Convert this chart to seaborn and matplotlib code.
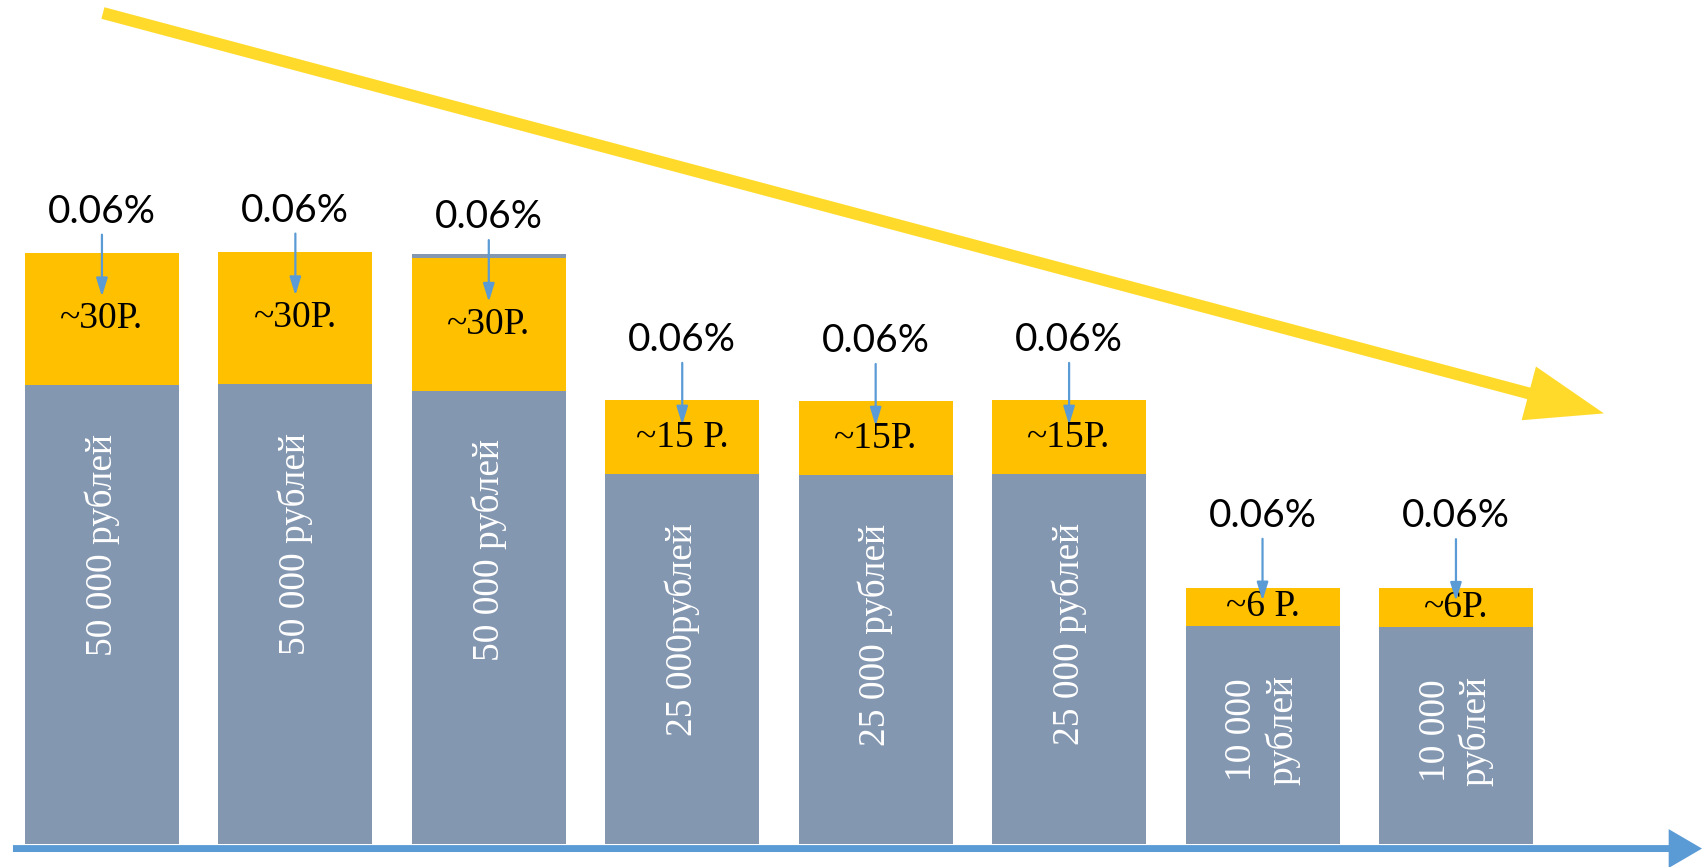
import pandas as pd
import matplotlib.pyplot as plt
import seaborn as sns
from matplotlib.patches import FancyArrowPatch

# deposits (grey part) and the 0.06% fee on top (yellow part), in picture units
slots = [1, 2, 3, 4, 5, 6, 7, 8]
base_values = [423, 424, 418, 341, 340, 341, 201, 200]
fee_values = [122, 122, 122, 68, 68, 68, 35, 36]
cap_values = [0, 0, 4, 0, 0, 0, 0, 0]   # thin grey edge left above the third bar
amount_labels = ['50 000 рублей', '50 000 рублей', '50 000 рублей',
                 '25 000рублей', '25 000 рублей', '25 000 рублей',
                 '10 000\nрублей', '10 000\nрублей']
fee_labels = ['~30Р.', '~30Р.', '~30Р.', '~15 Р.', '~15Р.', '~15Р.', '~6 Р.', '~6Р.']
rate_labels = ['0.06%'] * 8

GREY = '#8497B0'
GOLD = '#FFC000'
BLUE = '#5B9BD5'
ARROW_YELLOW = '#FFDA2B'
SERIF = ['Liberation Serif', 'DejaVu Serif']


def make_chart():
    df = pd.DataFrame({'slot': slots, 'base': base_values, 'fee': fee_values,
                       'cap': cap_values})
    df['total'] = df['base'] + df['fee']
    df['outer'] = df['total'] + df['cap']

    sns.set_style('white')
    fig = plt.figure(figsize=(17.02, 8.67), dpi=100)
    ax = fig.add_axes([0, 0, 1, 1])

    sns.barplot(data=df, x='slot', y='outer', color=GREY, saturation=1,
                width=0.796, linewidth=0, ax=ax)
    sns.barplot(data=df, x='slot', y='total', color=GOLD, saturation=1,
                width=0.796, linewidth=0, ax=ax)
    sns.barplot(data=df, x='slot', y='base', color=GREY, saturation=1,
                width=0.796, linewidth=0, ax=ax)

    for i, row in df.iterrows():
        top = row['total']
        # amount written vertically inside the grey bar
        ax.text(i, row['base'] - 45, amount_labels[i], rotation=90,
                ha='center', va='top', multialignment='center',
                color='white', fontsize=27, family=SERIF)
        # fee inside the yellow part
        ax.text(i, row['base'] + row['fee'] / 2, fee_labels[i],
                ha='center', va='center', color='black', fontsize=27,
                family=SERIF)
        # rate above the bar with a small arrow pointing down
        head_y = top - 0.33 * row['fee']
        label_y = head_y + 78
        ax.text(i, label_y, rate_labels[i], ha='center', va='center',
                color='black', fontsize=28, family='Lato')
        ax.annotate('', xy=(i, head_y), xytext=(i, head_y + 57),
                    arrowprops=dict(arrowstyle='-|>,head_length=0.55,head_width=0.17',
                                    color=BLUE, lw=1.6, mutation_scale=20,
                                    shrinkA=0, shrinkB=0))

    ax.set_xlim(-0.527, 8.272)
    ax.set_ylim(-21, 778)
    ax.set_axis_off()

    # baseline arrow
    ax.add_patch(FancyArrowPatch((-0.46, -4), (8.272, -4),
                                 arrowstyle='simple,head_length=2.4,head_width=2.8,tail_width=0.5',
                                 mutation_scale=10, color=BLUE, lw=0,
                                 shrinkA=0, shrinkB=0, clip_on=False))
    # big decreasing trend arrow
    ax.add_patch(FancyArrowPatch((0.005, 766), (7.765, 397),
                                 arrowstyle='simple,head_length=5.6,head_width=4.0,tail_width=0.86',
                                 mutation_scale=10, color=ARROW_YELLOW, lw=0,
                                 shrinkA=0, shrinkB=0))

    fig.savefig('out.png', dpi=100)
    plt.close(fig)


if __name__ == '__main__':
    make_chart()
